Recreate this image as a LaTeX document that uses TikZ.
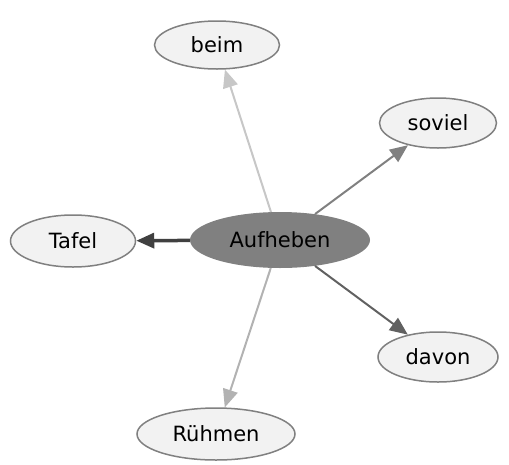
\documentclass[tikz,border=0pt]{standalone}
\usepackage{fontspec}
\setmainfont{DejaVu Sans}
\usetikzlibrary{shapes.geometric,arrows.meta}
\definecolor{wordFill}{rgb}{0.95,0.95,0.95}
\definecolor{wordLine}{rgb}{0.50,0.50,0.50}
\definecolor{rootFill}{rgb}{0.50,0.50,0.50}
\definecolor{edgeA}{rgb}{0.78,0.78,0.78}
\definecolor{edgeB}{rgb}{0.50,0.50,0.50}
\definecolor{edgeC}{rgb}{0.25,0.25,0.25}
\definecolor{edgeD}{rgb}{0.38,0.38,0.38}
\definecolor{edgeE}{rgb}{0.70,0.70,0.70}

\tikzset{
  word/.style={ellipse, draw=wordLine, line width=1.5pt, fill=wordFill,
    inner sep=0pt, font=\fontsize{21}{25}\selectfont},
  root/.style={ellipse, fill=rootFill, inner sep=0pt,
    minimum width=180pt, minimum height=56pt, font=\fontsize{21}{25}\selectfont},
  link/.style={line width=2pt, -{Triangle[length=18pt,width=15pt]}}
}

\begin{document}
\begin{tikzpicture}[x=1pt,y=-1pt]

  \useasboundingbox (0,0) rectangle (509,464);

  % centre word
  \node[root] (auf) at (280,240) {Aufheben};

  % surrounding words
  \node[word, minimum width=125pt, minimum height=48pt] (beim)   at (217,45)  {beim};
  \node[word, minimum width=117pt, minimum height=50pt] (soviel) at (438,123) {soviel};
  \node[word, minimum width=125pt, minimum height=52pt] (tafel)  at (73,241)  {Tafel};
  \node[word, minimum width=120pt, minimum height=50pt] (davon)  at (438,357) {davon};
  \node[word, minimum width=158pt, minimum height=52pt] (ruhmen) at (216,434) {Rühmen};

  % links
  \draw[link, edgeA] (auf) -- (beim);
  \draw[link, edgeB] (auf) -- (soviel);
  \draw[link, edgeC, line width=3.5pt] (auf) -- (tafel);
  \draw[link, edgeD] (auf) -- (davon);
  \draw[link, edgeE] (auf) -- (ruhmen);

\end{tikzpicture}
\end{document}
